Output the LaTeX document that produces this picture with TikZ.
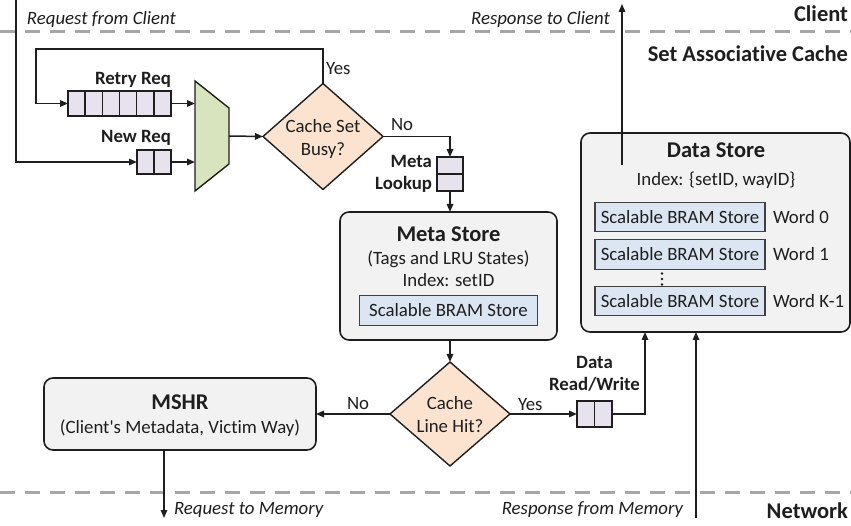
\documentclass[tikz,border=0pt]{standalone}
\usepackage{fontspec}
\setmainfont{Carlito}[Ligatures={TeXOff,NoCommon}]
\usetikzlibrary{shapes.geometric,arrows.meta,calc}

\definecolor{linecol}{HTML}{1E1E1E}
\definecolor{queuefill}{HTML}{E7E2EE}
\definecolor{muxfill}{HTML}{D7E4BD}
\definecolor{decfill}{HTML}{FBE3D0}
\definecolor{storefill}{HTML}{F2F2F2}
\definecolor{bramfill}{HTML}{DCE6F2}
\definecolor{sepgray}{HTML}{A6A6A6}

\newcommand{\fsnorm}{\fontsize{18.8}{23}\selectfont}
\newcommand{\fshead}{\fontsize{22.5}{26}\selectfont}

\begin{document}
\begin{tikzpicture}[x=1pt,y=-1pt,
  every node/.style={inner sep=0pt, outer sep=0pt, text=linecol},
  conn/.style={draw=linecol, line width=1.5pt, -{Triangle[length=8pt,width=6.5pt]}},
  wire/.style={draw=linecol, line width=1.4pt},
  queuebox/.style={draw=linecol, fill=queuefill, line width=1.4pt},
  storebox/.style={draw=linecol, fill=storefill, rounded corners=9pt, line width=1.6pt},
  bram/.style={draw=linecol!85, fill=bramfill, line width=1.3pt, minimum width=170pt, minimum height=29.5pt, font=\fsnorm},
  decision/.style={diamond, draw=linecol, fill=decfill, line width=1.4pt, minimum width=120pt, minimum height=106pt},
  sepline/.style={draw=sepgray, line width=3pt, dash pattern=on 15pt off 10pt},
  lab/.style={font=\fsnorm},
  blab/.style={font=\fsnorm\bfseries},
  ilab/.style={font=\fsnorm\itshape},
  head/.style={font=\fshead\bfseries},
]
\useasboundingbox (0,0) rectangle (851,526);

% domain separators
\draw[sepline] (0,32) -- (851,32);
\draw[sepline] (0,492) -- (851,492);

% domain titles and external labels
\node[head, anchor=base east] (lclient) at (848,22) {Client};
\node[head, anchor=base east] (lsac) at (848,62) {Set Associative Cache};
\node[head, anchor=base east] (lnet) at (848,518) {Network};
\node[ilab, anchor=base west] (reqcli) at (27,25) {Request from Client};
\node[ilab, anchor=base east] (respcli) at (610,25) {Response to Client};
\node[ilab, anchor=base west] (reqmem) at (174,514) {Request to Memory};
\node[ilab, anchor=base east] (respmem) at (683,514) {Response from Memory};

% request queues
\node[queuebox, minimum width=103pt, minimum height=25pt] (rq) at (119.5,103.5) {};
\foreach \i in {1,...,5}
  \draw[wire] ($(rq.north west)!\i/6!(rq.north east)$) -- ($(rq.south west)!\i/6!(rq.south east)$);
\node[queuebox, minimum width=34pt, minimum height=24pt] (nq) at (154,162) {};
\draw[wire] (nq.north) -- (nq.south);
\node[blab, anchor=base east] (lrq) at (171,85) {Retry Req};
\node[blab, anchor=base east] (lnq) at (171,143) {New Req};

% arbiter
\filldraw[draw=linecol, fill=muxfill, line width=1.4pt]
  (195,81) -- (229,108) -- (229,164) -- (195,191) -- cycle;
\coordinate (muxa) at (195,103.5);
\coordinate (muxb) at (195,162);
\coordinate (muxo) at (229,136);

% set busy check
\node[decision] (busy) at (323,136.5) {};
\node[lab, anchor=base] (busy1) at (323,133) {Cache Set};
\node[lab, anchor=base] (busy2) at (323,156) {Busy?};

% meta lookup queue
\node[queuebox, minimum width=26pt, minimum height=34pt] (mq) at (450,174) {};
\draw[wire] (mq.west) -- (mq.east);
\node[blab, anchor=base east] (lmq1) at (432,168) {Meta};
\node[blab, anchor=base east] (lmq2) at (432,190) {Lookup};

% meta store
\node[storebox, minimum width=217pt, minimum height=128pt] (meta) at (448.5,276) {};
\node[head, anchor=base] (meta1) at (448.5,242) {Meta Store};
\node[lab, anchor=base] (meta2) at (448.5,265) {(Tags and LRU States)};
\node[lab, anchor=base] (meta3) at (448.5,287) {Index: setID};
\node[bram, minimum width=178pt] (mbram) at (448.5,310.5) {Scalable BRAM Store};

% hit check
\node[decision, minimum height=104pt] (hit) at (450,414) {};
\node[lab, anchor=base] (hit1) at (450,409) {Cache};
\node[lab, anchor=base] (hit2) at (450,432) {Line Hit?};

% MSHR
\node[storebox, minimum width=272pt, minimum height=72pt] (mshr) at (180,414) {};
\node[head, anchor=base] (mshr1) at (180,409) {MSHR};
\node[lab, anchor=base] (mshr2) at (180,433) {(Client's Metadata, Victim Way)};

% data read/write queue
\node[queuebox, minimum width=35pt, minimum height=26pt] (dq) at (594.5,414) {};
\draw[wire] (dq.north) -- (dq.south);
\node[blab, anchor=base] (ldq1) at (594.5,368) {Data};
\node[blab, anchor=base] (ldq2) at (594.5,390) {Read/Write};

% data store
\node[storebox, minimum width=269pt, minimum height=199pt] (data) at (715.5,232.5) {};
\node[head, anchor=base] (data1) at (716,158) {Data Store};
\node[lab, anchor=base] (data2) at (716,186) {Index: \{setID, wayID\}};
\node[bram] (b0) at (680,217) {Scalable BRAM Store};
\node[bram] (b1) at (680,254.5) {Scalable BRAM Store};
\node[bram] (bk) at (680,301) {Scalable BRAM Store};
\node[lab, anchor=west] (w0) at ([xshift=8pt]b0.east) {Word 0};
\node[lab, anchor=west] (w1) at ([xshift=8pt]b1.east) {Word 1};
\node[lab, anchor=west] (wk) at ([xshift=8pt]bk.east) {Word K-1};
\foreach \yy in {273.5,279,284.5}
  \fill[linecol] (662,\yy) circle (1.3pt);

% flow
\coordinate (cin) at (16,0);
\draw[conn] (cin) |- (nq.west);
\coordinate (retryturn) at (36,49);
\draw[conn] (busy.north) |- (retryturn) |- (rq.west);
\node[lab, anchor=base west] (lyes1) at (326,75) {Yes};
\draw[conn] (rq.east) -- (muxa);
\draw[conn] (nq.east) -- (muxb);
\draw[conn] (muxo) -- (busy.west);
\draw[conn] (busy.east) -| (mq.north);
\node[lab, anchor=base west] (lno1) at (391,131) {No};
\draw[conn] (mq.south) -- (meta.north -| mq.south);
\draw[conn] (meta.south -| hit.north) -- (hit.north);
\draw[conn] (hit.west) -- (mshr.east);
\node[lab, anchor=base west] (lno2) at (347,409) {No};
\draw[conn] (hit.east) -- (dq.west);
\node[lab, anchor=base west] (lyes2) at (518,410) {Yes};
\coordinate (dqturn) at (645,414);
\draw[conn] (dq.east) -- (dqturn) -- (dqturn |- data.south);
\coordinate (memin) at (696,518);
\draw[conn] (memin) -- (memin |- data.south);
\coordinate (rspsrc) at (622,165);
\coordinate (rspout) at (622,4);
\draw[conn] (rspsrc) -- (rspout);
\coordinate (mshrout) at (164,518);
\draw[conn] (mshr.south -| mshrout) -- (mshrout);
\end{tikzpicture}
\end{document}
